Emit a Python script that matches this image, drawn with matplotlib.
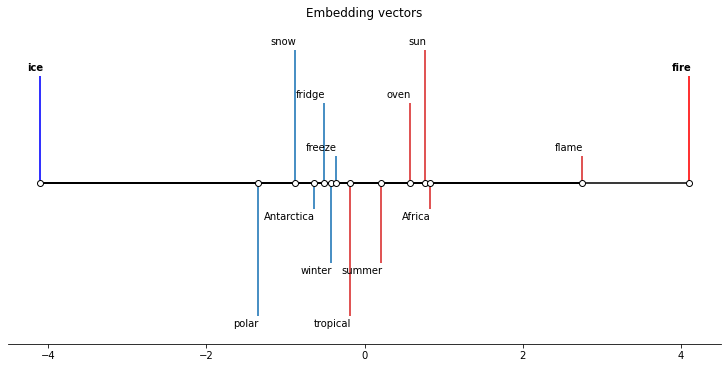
import matplotlib
matplotlib.use("Agg")
import matplotlib.pyplot as plt
import numpy as np

# words placed on the embedding axis
words = ["ice", "polar", "snow", "Antarctica", "fridge", "winter", "freeze",
         "tropical", "summer", "oven", "sun", "Africa", "flame", "fire"]
positions = [-4.10, -1.35, -0.88, -0.64, -0.51, -0.42, -0.36,
             -0.18, 0.21, 0.58, 0.77, 0.83, 2.75, 4.10]
levels = [4, -5, 5, -1, 3, -3, 1,
          -5, -3, 3, 5, -1, 1, 4]
# cold words in blue, hot words in red
groups = ["cold", "cold", "cold", "cold", "cold", "cold", "cold",
          "hot", "hot", "hot", "hot", "hot", "hot", "hot"]

stem_col = {"cold": "#4a90c4", "hot": "#e05555"}
anchor_col = {"ice": "#3333ff", "fire": "#ff3333"}

fig = plt.figure(figsize=(728 / 72, 368 / 72), dpi=72)
ax = fig.add_axes([8 / 728, 24 / 368, 713 / 728, 321 / 368])

# baseline
ax.plot([positions[-2], positions[-1]], [0, 0], color="#3a3a3a", lw=2, zorder=1)
ax.plot([positions[0], positions[-2]], [0, 0], color="k", lw=2, zorder=1)

for w, x, l, g in zip(words, positions, levels, groups):
    c = anchor_col.get(w, stem_col[g])
    bold = w in anchor_col
    ax.vlines(x, 0, l, color=c, lw=2, zorder=2)
    ax.annotate(w, xy=(x, l), xytext=(3 if bold else 1, np.sign(l) * 3),
                textcoords="offset points", ha="right",
                va="bottom" if l > 0 else "top", fontsize=10,
                fontweight="bold" if bold else "normal")

ax.plot(positions, np.zeros(len(positions)), "o", color="k",
        markerfacecolor="w", markersize=6, zorder=3)

ax.set_xlim(-4.51, 4.51)
ax.set_ylim(-6.05, 6)
ax.set_xticks([-4, -2, 0, 2, 4])
ax.yaxis.set_visible(False)
for s in ["left", "top", "right"]:
    ax.spines[s].set_visible(False)
ax.set_title("Embedding vectors", fontsize=12)

fig.savefig("out.png", dpi=72)
